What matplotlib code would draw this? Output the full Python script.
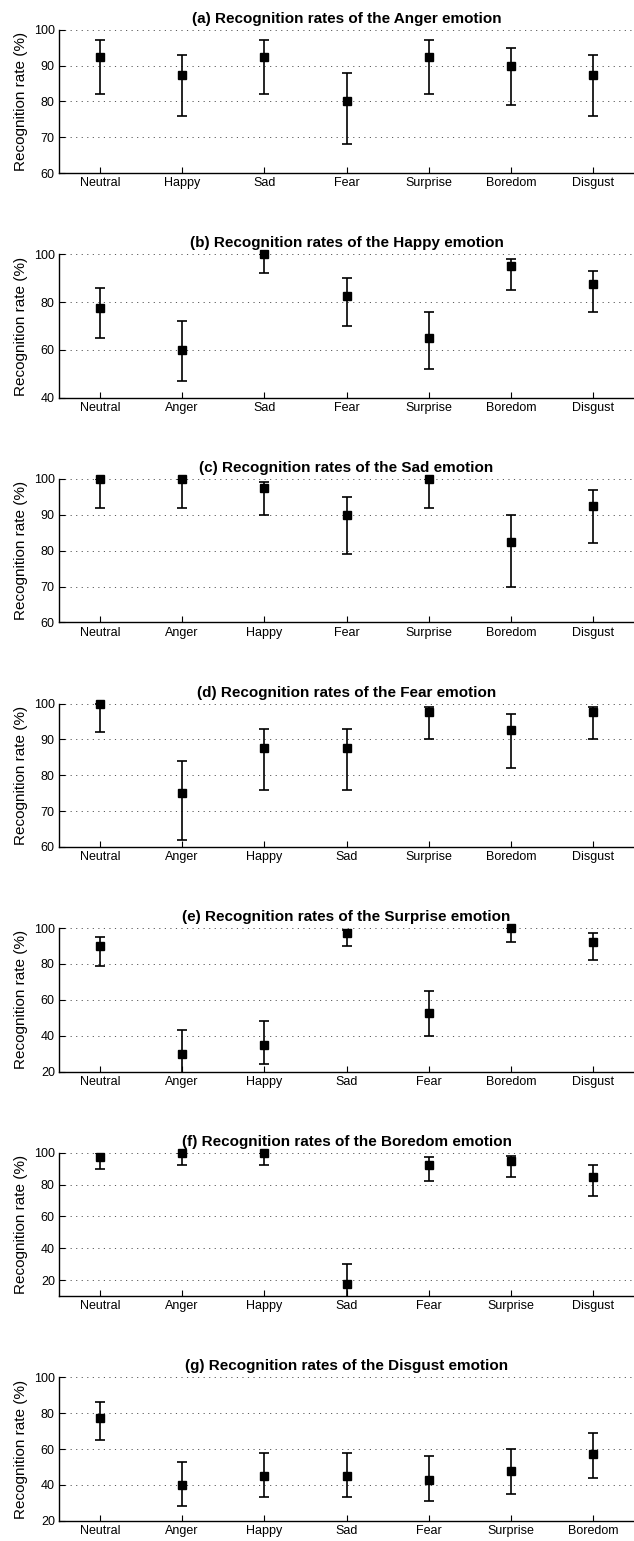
import numpy as np
import matplotlib
matplotlib.use("Agg")
import matplotlib.pyplot as plt

# --------------------------------------------------
# Data
# --------------------------------------------------

anger_labels = ["Neutral", "Happy", "Sad", "Fear", "Surprise", "Boredom", "Disgust"]
anger_means = [92.5, 87.5, 92.5, 80, 92.5, 90, 87.5]
anger_upper = [97, 93, 97, 88, 97, 95, 93]
anger_lower = [82, 76, 82, 68, 82, 79, 76]

happy_labels = ["Neutral", "Anger", "Sad", "Fear", "Surprise", "Boredom", "Disgust"]
happy_means = [77.5, 60, 100, 82.5, 65, 95, 87.5]
happy_upper = [86, 72, 100, 90, 76, 98, 93]
happy_lower = [65, 47, 92, 70, 52, 85, 76]

sad_labels = ["Neutral", "Anger", "Happy", "Fear", "Surprise", "Boredom", "Disgust"]
sad_means = [100, 100, 97.5, 90, 100, 82.5, 92.5]
sad_upper = [100, 100, 99, 95, 100, 90, 97]
sad_lower = [92, 92, 90, 79, 92, 70, 82]

fear_labels = ["Neutral", "Anger", "Happy", "Sad", "Surprise", "Boredom", "Disgust"]
fear_means = [100, 75, 87.5, 87.5, 97.5, 92.5, 97.5]
fear_upper = [100, 84, 93, 93, 99, 97, 99]
fear_lower = [92, 62, 76, 76, 90, 82, 90]

surprise_labels = ["Neutral", "Anger", "Happy", "Sad", "Fear", "Boredom", "Disgust"]
surprise_means = [90, 30, 35, 97.5, 52.5, 100, 92.5]
surprise_upper = [95, 43, 48, 99, 65, 100, 97]
surprise_lower = [79, 17, 24, 90, 40, 92, 82]

boredom_labels = ["Neutral", "Anger", "Happy", "Sad", "Fear", "Surprise", "Disgust"]
boredom_means = [97.5, 100, 100, 17.5, 92.5, 95, 85]
boredom_upper = [100, 100, 100, 30, 97, 98, 92]
boredom_lower = [90, 92, 92, 5, 82, 85, 73]

disgust_labels = ["Neutral", "Anger", "Happy", "Sad", "Fear", "Surprise", "Boredom"]
disgust_means = [77.5, 40, 45, 45, 42.5, 47.5, 57.5]
disgust_upper = [86, 53, 58, 58, 56, 60, 69]
disgust_lower = [65, 28, 33, 33, 31, 35, 44]

titles = [
    "(a) Recognition rates of the Anger emotion",
    "(b) Recognition rates of the Happy emotion",
    "(c) Recognition rates of the Sad emotion",
    "(d) Recognition rates of the Fear emotion",
    "(e) Recognition rates of the Surprise emotion",
    "(f) Recognition rates of the Boredom emotion",
    "(g) Recognition rates of the Disgust emotion",
]

y_limits = [(60, 100), (40, 100), (60, 100), (60, 100), (20, 100), (10, 100), (20, 100)]
y_ticks = [
    [60, 70, 80, 90, 100],
    [40, 60, 80, 100],
    [60, 70, 80, 90, 100],
    [60, 70, 80, 90, 100],
    [20, 40, 60, 80, 100],
    [20, 40, 60, 80, 100],
    [20, 40, 60, 80, 100],
]

panels = [
    (anger_labels, anger_means, anger_upper, anger_lower),
    (happy_labels, happy_means, happy_upper, happy_lower),
    (sad_labels, sad_means, sad_upper, sad_lower),
    (fear_labels, fear_means, fear_upper, fear_lower),
    (surprise_labels, surprise_means, surprise_upper, surprise_lower),
    (boredom_labels, boredom_means, boredom_upper, boredom_lower),
    (disgust_labels, disgust_means, disgust_upper, disgust_lower),
]

# --------------------------------------------------
# Figure
# --------------------------------------------------

plt.rcParams["font.family"] = ["Liberation Sans", "DejaVu Sans"]

W, H = 634, 1541
fig = plt.figure(figsize=(W / 100, H / 100), dpi=100)

left_px = 59
top0_px = 29.7
step_px = 224.6
height_px = 143.5

for i, (labels, means, upper, lower) in enumerate(panels):

    top = top0_px + i * step_px
    ax = fig.add_axes([
        left_px / W,
        1 - (top + height_px) / H,
        (W - left_px) / W,
        height_px / H
    ])

    x = np.arange(1, len(labels) + 1)
    means = np.array(means)
    yerr = [means - np.array(lower), np.array(upper) - means]

    ax.errorbar(
        x, means, yerr=yerr,
        fmt="none", ecolor="black", elinewidth=1.2,
        capsize=3.8, capthick=1.2, zorder=3
    )

    ax.plot(
        x, means, "s", color="black", markersize=5.3,
        clip_on=False, zorder=4
    )

    ax.set_xlim(0.5, 7.5)
    ax.set_ylim(*y_limits[i])
    ax.set_xticks(x)
    ax.set_xticklabels(labels)
    ax.set_yticks(y_ticks[i])

    ax.yaxis.grid(True, color="0.35", linestyle=(0, (1.2, 4.5)), linewidth=0.7)
    ax.set_axisbelow(True)

    ax.spines["top"].set_visible(False)
    ax.spines["right"].set_visible(False)
    ax.spines["left"].set_linewidth(1.0)
    ax.spines["bottom"].set_linewidth(1.0)

    ax.tick_params(direction="in", length=4, width=0.8, labelsize=9, pad=3)
    ax.tick_params(axis="y", right=False)
    ax.tick_params(axis="x", top=False)

    ax.set_title(titles[i], fontsize=11, fontweight="bold", pad=5)
    ax.set_ylabel("Recognition rate (%)", fontsize=11, labelpad=4)

fig.savefig("out.png", dpi=100)
plt.close(fig)
